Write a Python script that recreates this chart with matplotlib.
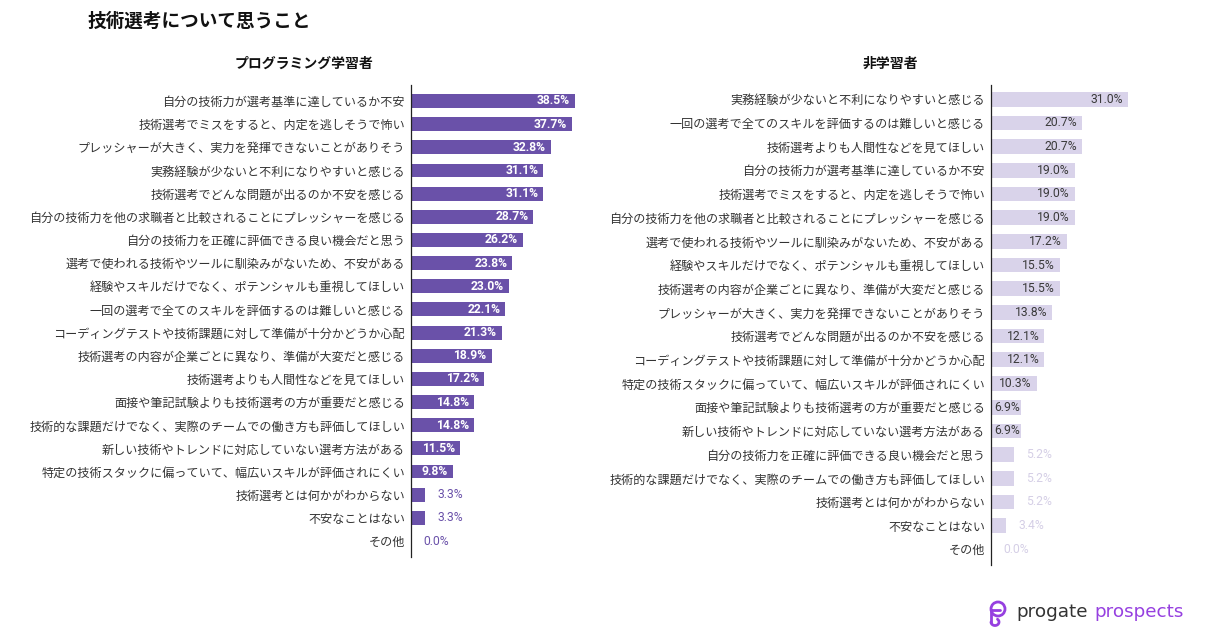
import matplotlib
matplotlib.use("Agg")
import matplotlib.pyplot as plt
from matplotlib.patches import Circle
import numpy as np

plt.rcParams['font.family'] = ['Noto Sans CJK JP', 'DejaVu Sans']

# --- data (top to bottom) ---
learner_labels = [
    "自分の技術力が選考基準に達しているか不安",
    "技術選考でミスをすると、内定を逃しそうで怖い",
    "プレッシャーが大きく、実力を発揮できないことがありそう",
    "実務経験が少ないと不利になりやすいと感じる",
    "技術選考でどんな問題が出るのか不安を感じる",
    "自分の技術力を他の求職者と比較されることにプレッシャーを感じる",
    "自分の技術力を正確に評価できる良い機会だと思う",
    "選考で使われる技術やツールに馴染みがないため、不安がある",
    "経験やスキルだけでなく、ポテンシャルも重視してほしい",
    "一回の選考で全てのスキルを評価するのは難しいと感じる",
    "コーディングテストや技術課題に対して準備が十分かどうか心配",
    "技術選考の内容が企業ごとに異なり、準備が大変だと感じる",
    "技術選考よりも人間性などを見てほしい",
    "面接や筆記試験よりも技術選考の方が重要だと感じる",
    "技術的な課題だけでなく、実際のチームでの働き方も評価してほしい",
    "新しい技術やトレンドに対応していない選考方法がある",
    "特定の技術スタックに偏っていて、幅広いスキルが評価されにくい",
    "技術選考とは何かがわからない",
    "不安なことはない",
    "その他",
]
learner_values = [38.5, 37.7, 32.8, 31.1, 31.1, 28.7, 26.2, 23.8, 23.0, 22.1,
                  21.3, 18.9, 17.2, 14.8, 14.8, 11.5, 9.8, 3.3, 3.3, 0.0]

non_labels = [
    "実務経験が少ないと不利になりやすいと感じる",
    "一回の選考で全てのスキルを評価するのは難しいと感じる",
    "技術選考よりも人間性などを見てほしい",
    "自分の技術力が選考基準に達しているか不安",
    "技術選考でミスをすると、内定を逃しそうで怖い",
    "自分の技術力を他の求職者と比較されることにプレッシャーを感じる",
    "選考で使われる技術やツールに馴染みがないため、不安がある",
    "経験やスキルだけでなく、ポテンシャルも重視してほしい",
    "技術選考の内容が企業ごとに異なり、準備が大変だと感じる",
    "プレッシャーが大きく、実力を発揮できないことがありそう",
    "技術選考でどんな問題が出るのか不安を感じる",
    "コーディングテストや技術課題に対して準備が十分かどうか心配",
    "特定の技術スタックに偏っていて、幅広いスキルが評価されにくい",
    "面接や筆記試験よりも技術選考の方が重要だと感じる",
    "新しい技術やトレンドに対応していない選考方法がある",
    "自分の技術力を正確に評価できる良い機会だと思う",
    "技術的な課題だけでなく、実際のチームでの働き方も評価してほしい",
    "技術選考とは何かがわからない",
    "不安なことはない",
    "その他",
]
non_values = [31.0, 20.7, 20.7, 19.0, 19.0, 19.0, 17.2, 15.5, 15.5, 13.8,
              12.1, 12.1, 10.3, 6.9, 6.9, 5.2, 5.2, 5.2, 3.4, 0.0]

W, H = 1210, 642
fig = plt.figure(figsize=(W / 100, H / 100), dpi=100)
fig.patch.set_facecolor('white')


def px_axes(x0, y0, x1, y1):
    return fig.add_axes([x0 / W, 1 - y1 / H, (x1 - x0) / W, (y1 - y0) / H])


def draw_panel(ax, labels, values, xmax, color, in_color, out_color, in_weight,
               bar_h, ylim, min_inside):
    y = np.arange(len(labels))
    ax.barh(y, values, height=bar_h, color=color, zorder=2)
    ax.set_xlim(0, xmax)
    ax.set_ylim(*ylim)
    ax.set_yticks(y)
    ax.set_yticklabels(labels, fontsize=8.7, color='#333333')
    ax.tick_params(axis='y', length=0, pad=4.3)
    ax.set_xticks([])
    for s in ['top', 'right', 'bottom']:
        ax.spines[s].set_visible(False)
    ax.spines['left'].set_color('#222222')
    ax.spines['left'].set_linewidth(0.9)
    ax.set_facecolor('none')
    for yi, v in zip(y, values):
        txt = f"{v:.1f}%"
        if v >= min_inside:
            # short bars: keep the label just inside the bar
            pad = -3.6 if v >= 8 else -1.0
            ax.annotate(txt, xy=(v, yi), xytext=(pad, 0), textcoords='offset points',
                        ha='right', va='center', fontsize=8.7, family='Roboto',
                        color=in_color, weight=in_weight, zorder=3)
        else:
            ax.annotate(txt, xy=(v, yi), xytext=(8.8, 0), textcoords='offset points',
                        ha='left', va='center', fontsize=8.7, family='Roboto',
                        color=out_color, zorder=3)


# left panel
axL = px_axes(411, 85, 600, 557)
draw_panel(axL, learner_labels, learner_values, (600 - 411) / 4.26,
           '#6a51a9', 'white', '#6a51a9', 'bold', 0.6, (19.69, -0.69), 6)

# right panel
axR = px_axes(991, 85, 1190, 565)
draw_panel(axR, non_labels, non_values, (1190 - 991) / 4.42,
           '#d9d3ea', '#3a3a3a', '#d5cfe6', 'normal', 0.62, (19.66, -0.6), 6)

# titles
fig.text(87 / W, 1 - 21 / H, "技術選考について思うこと", fontsize=13.4, weight='bold',
         ha='left', va='center', color='#111111')
fig.text(304 / W, 1 - 64 / H, "プログラミング学習者", fontsize=10, weight='bold',
         ha='center', va='center', color='#111111')
fig.text(890 / W, 1 - 64 / H, "非学習者", fontsize=10, weight='bold',
         ha='center', va='center', color='#111111')

# logo mark
purple = '#9640e0'
logo = px_axes(986, 596, 1012, 632)
logo.set_xlim(986, 1012)
logo.set_ylim(632, 596)
logo.axis('off')
logo.add_patch(Circle((998, 609), 7, fill=False, lw=2.0, color=purple))
logo.plot([991, 1000], [610, 610], color=purple, lw=2.0, solid_capstyle='round')
tail_y = np.linspace(610, 622, 20)
logo.plot(991 + 0.0 * tail_y, tail_y, color=purple, lw=2.0)
a = np.linspace(np.pi, 2.0 * np.pi + 0.9, 40)
logo.plot(995 + 4 * np.cos(a), 622 - 3.5 * np.sin(a), color=purple, lw=2.0,
          solid_capstyle='round')

fig.text(1016 / W, 1 - 612 / H, "progate", fontsize=13.2, family='DejaVu Sans',
         color='#333333', ha='left', va='center')
fig.text(1094 / W, 1 - 612 / H, "prospects", fontsize=13.2, family='DejaVu Sans',
         color=purple, ha='left', va='center')

fig.savefig('out.png', dpi=100, facecolor='white')
